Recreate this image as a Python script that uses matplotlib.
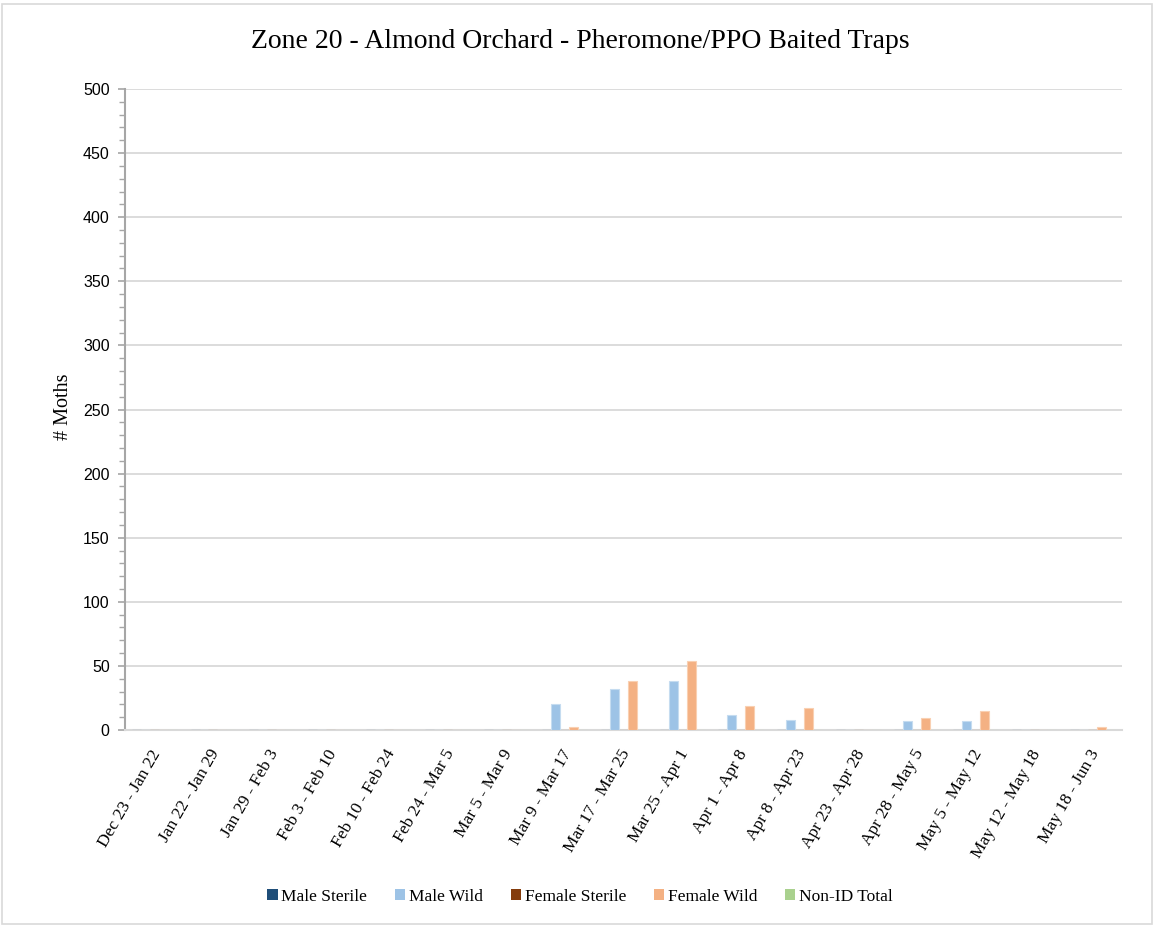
import matplotlib
matplotlib.use("Agg")
import matplotlib.pyplot as plt
import matplotlib.transforms as mtransforms
import numpy as np
from matplotlib.patches import Rectangle

categories = ["Dec 23 - Jan 22", "Jan 22 - Jan 29", "Jan 29 - Feb 3", "Feb 3 - Feb 10",
              "Feb 10 - Feb 24", "Feb 24 - Mar 5", "Mar 5 - Mar 9", "Mar 9 - Mar 17",
              "Mar 17 - Mar 25", "Mar 25 - Apr 1", "Apr 1 - Apr 8", "Apr 8 - Apr 23",
              "Apr 23 - Apr 28", "Apr 28 - May 5", "May 5 - May 12", "May 12 - May 18",
              "May 18 - Jun 3"]
male_sterile = [0, 0, 0, 0, 0, 0, 0, 0, 0, 0, 0, 0, 0, 0, 0, 0, 0]
male_wild = [0, 0, 0, 0, 0, 0, 0, 20, 32, 38, 12, 8, 0, 7, 7, 0, 0]
female_sterile = [0, 0, 0, 0, 0, 0, 0, 0, 0, 0, 0, 0, 0, 0, 0, 0, 0]
female_wild = [0, 0, 0, 0, 0, 0, 0, 2, 38, 54, 19, 17, 0, 9, 15, 0, 2]
non_id_total = [0, 0, 0, 0, 0, 0, 0, 0, 0, 0, 0, 0, 0, 0, 0, 0, 0]

series_names = ["Male Sterile", "Male Wild", "Female Sterile", "Female Wild", "Non-ID Total"]
series_values = [male_sterile, male_wild, female_sterile, female_wild, non_id_total]
colors = ["#1F4E79", "#9DC3E6", "#843C0C", "#F4B183", "#A9D18E"]
edge_colors = ["#4A7097", "#C5DCF0", "#A05A35", "#F9D0B2", "#C8E2B6"]

fig = plt.figure(figsize=(11.56, 9.26), dpi=100)
W, H = 1156, 926
left, right, top, bottom = 125, 1122, 89, 730
ax = fig.add_axes([left / W, 1 - bottom / H, (right - left) / W, (bottom - top) / H])

# outer chart border
fig.patches.append(Rectangle((2 / W, 2 / H), (W - 6) / W, (H - 6) / H, transform=fig.transFigure,
                             fill=False, edgecolor="#D9D9D9", linewidth=1.2))

x = np.arange(len(categories))
bw = 0.153
for i, (name, vals) in enumerate(zip(series_names, series_values)):
    ax.bar(x + (i - 2) * bw, vals, width=bw, color=colors[i], edgecolor=edge_colors[i],
           linewidth=0.8, label=name, zorder=3)

ax.set_xlim(-0.5, len(categories) - 0.5)
ax.set_ylim(0, 500)
ax.set_yticks(np.arange(0, 501, 50))
ax.set_yticks(np.arange(0, 501, 10), minor=True)
ax.yaxis.grid(True, which="major", color="#D9D9D9", linewidth=1.3, zorder=0)
ax.set_axisbelow(True)

for s in ["top", "right"]:
    ax.spines[s].set_visible(False)
ax.spines["left"].set_color("#A6A6A6")
ax.spines["left"].set_linewidth(1.5)
ax.spines["bottom"].set_color("#D9D9D9")
ax.spines["bottom"].set_linewidth(1.5)

ax.tick_params(axis="y", which="major", length=5, width=1.2, color="#A6A6A6",
               labelsize=11.5, pad=6)
ax.tick_params(axis="y", which="minor", length=4, width=1.0, color="#A6A6A6")
for lab in ax.get_yticklabels():
    lab.set_fontfamily("Liberation Sans")

ax.set_xticks(x)
ax.set_xticklabels(categories, rotation=60, ha="right", va="center",
                   rotation_mode="anchor", fontfamily="Liberation Serif", fontsize=12.5)
ax.tick_params(axis="x", length=0, pad=15)
offset = mtransforms.ScaledTranslation(3 / 100, 0, fig.dpi_scale_trans)
for lab in ax.get_xticklabels():
    lab.set_transform(lab.get_transform() + offset)

ax.set_ylabel("# Moths", fontfamily="Liberation Serif", fontsize=14.5)
ax.yaxis.set_label_coords(-0.052, 0.505)

fig.text(580 / W, 1 - 42 / H, "Zone 20 - Almond Orchard - Pheromone/PPO Baited Traps",
         ha="center", va="center", fontfamily="Liberation Serif", fontsize=20)

leg = fig.legend(loc="center", bbox_to_anchor=(580 / W, 1 - 897 / H), ncol=5, frameon=False,
                 prop={"family": "Liberation Serif", "size": 12.5},
                 handlelength=0.6, handleheight=0.6, handletextpad=0.2, columnspacing=1.6)
for h in leg.legend_handles:
    h.set_edgecolor("none")

fig.savefig("out.png", dpi=100, facecolor="white")
